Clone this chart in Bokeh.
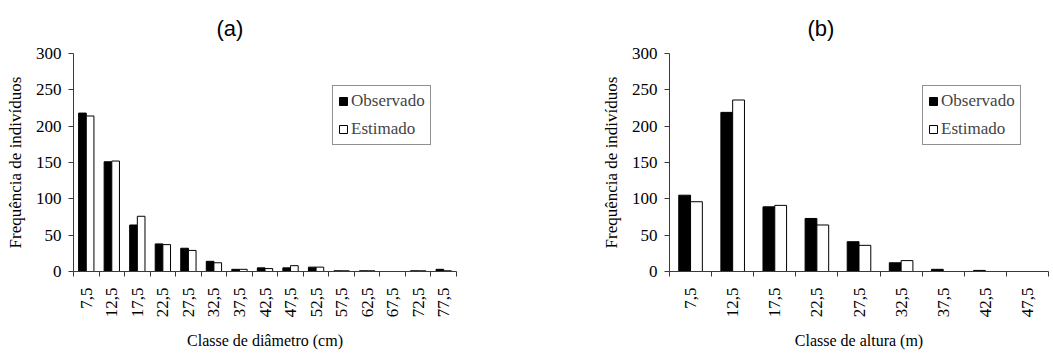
import math
from bokeh.plotting import figure
from bokeh.layouts import row
from bokeh.models import Range1d, FixedTicker, Legend, LegendItem, ColumnDataSource
from bokeh.transform import dodge
from bokeh.embed import file_html
from bokeh.resources import INLINE

# ---- data ----
classes_diam = ["7,5", "12,5", "17,5", "22,5", "27,5", "32,5", "37,5", "42,5",
                "47,5", "52,5", "57,5", "62,5", "67,5", "72,5", "77,5"]
obs_diam = [218, 151, 64, 38, 32, 14, 3, 5, 5, 6, 1, 1, 0, 1, 3]
est_diam = [214, 152, 76, 37, 29, 12, 3, 4, 8, 6, 1, 1, 0, 1, 1]

classes_alt = ["7,5", "12,5", "17,5", "22,5", "27,5", "32,5", "37,5", "42,5", "47,5"]
obs_alt = [105, 219, 89, 73, 41, 12, 3, 1.5, 0]
est_alt = [96, 236, 91, 64, 36, 15, 0, 0, 0]

y_ticks = [0, 50, 100, 150, 200, 250, 300]
series_names = ["Observado", "Estimado"]

SERIF = "Liberation Serif"
SANS = "Liberation Sans"
H = 353


def panel(classes, obs, est, xlabel, title, width, left, right, bar_w,
          title_offset, legend_x):
    n = len(classes)
    idx = list(range(n))
    p = figure(width=width, height=H, output_backend="svg",
               toolbar_location=None,
               x_range=Range1d(-0.5, n - 0.5), y_range=Range1d(0, 300),
               min_border_left=left, min_border_right=right,
               min_border_top=52, min_border_bottom=H - 271,
               title=title)
    p.title.text_font = SANS
    p.title.text_font_size = "22px"
    p.title.text_font_style = "normal"
    p.title.text_color = "black"
    p.title.align = "left"
    p.title.offset = title_offset
    p.title.standoff = 26
    p.xgrid.visible = False
    p.ygrid.visible = False
    p.outline_line_color = None

    src = ColumnDataSource(dict(x=idx, obs=obs, est=est))
    r1 = p.vbar(x=dodge("x", -bar_w / 2, range=p.x_range), top="obs",
                width=bar_w, source=src, fill_color="black",
                line_color="black", line_width=1)
    r2 = p.vbar(x=dodge("x", bar_w / 2, range=p.x_range), top="est",
                width=bar_w, source=src, fill_color="white",
                line_color="black", line_width=1)

    for ax in (p.xaxis[0], p.yaxis[0]):
        ax.axis_line_color = "#3a3a3a"
        ax.major_tick_line_color = "#3a3a3a"
        ax.minor_tick_line_color = "#3a3a3a"
        ax.major_label_text_font = SERIF
        ax.major_label_text_font_size = "17px"
        ax.major_label_text_color = "black"
        ax.axis_label_text_font = SERIF
        ax.axis_label_text_font_style = "normal"
        ax.axis_label_text_color = "black"

    xa = p.xaxis[0]
    xa.ticker = FixedTicker(ticks=idx, minor_ticks=[i - 0.5 for i in range(n + 1)])
    xa.major_label_overrides = {i: c for i, c in zip(idx, classes)}
    xa.major_tick_out = 0
    xa.major_tick_in = 0
    xa.minor_tick_out = 5
    xa.minor_tick_in = 0
    xa.major_label_orientation = math.pi / 2
    xa.major_label_standoff = 11
    xa.axis_label = xlabel
    xa.axis_label_text_font_size = "16px"
    xa.axis_label_standoff = 12

    ya = p.yaxis[0]
    ya.ticker = FixedTicker(ticks=y_ticks, minor_ticks=[])
    ya.major_tick_out = 5
    ya.major_tick_in = 0
    ya.minor_tick_out = 0
    ya.minor_tick_in = 0
    ya.major_label_standoff = 7
    ya.axis_label = "Frequência de indivíduos"
    ya.axis_label_text_font_size = "17px"
    ya.axis_label_standoff = 8

    legend = Legend(items=[LegendItem(label=series_names[0], renderers=[r1]),
                           LegendItem(label=series_names[1], renderers=[r2])],
                    location=(legend_x, 126))
    legend.border_line_color = "#222222"
    legend.border_line_width = 1
    legend.background_fill_alpha = 1
    legend.label_text_font = SERIF
    legend.label_text_font_size = "17px"
    legend.glyph_width = 10
    legend.glyph_height = 10
    legend.label_standoff = 3
    legend.padding = 5
    legend.spacing = 8
    legend.margin = 0
    legend.label_height = 20
    p.add_layout(legend, "center")
    return p


pa = panel(classes_diam, obs_diam, est_diam, "Classe de diâmetro (cm)", "(a)",
           530, 73, 74, 0.3, 143, 259)
pb = panel(classes_alt, obs_alt, est_alt, "Classe de altura (m)", "(b)",
           523, 139, 5, 0.28, 138, 253)

layout = row(pa, pb)
open("out.html", "w").write(file_html(layout, INLINE))
